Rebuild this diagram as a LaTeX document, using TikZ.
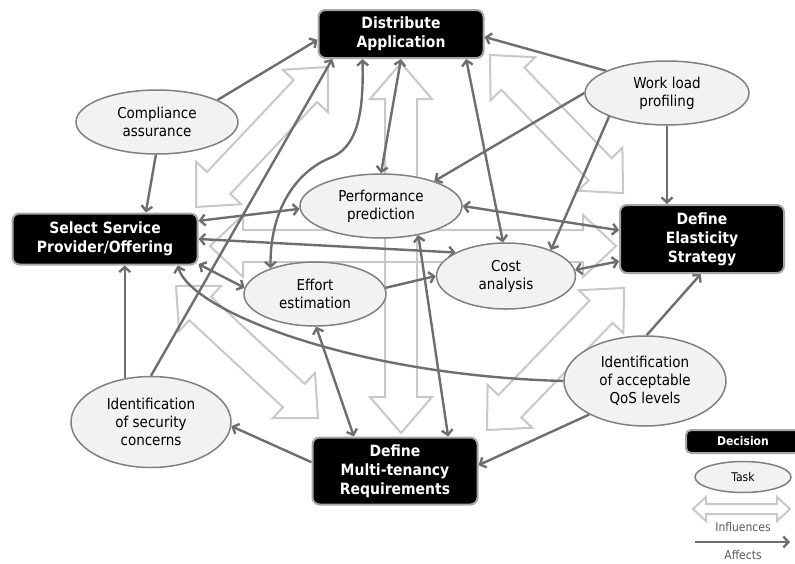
\documentclass[tikz,border=0pt]{standalone}
\usepackage{fontspec}
\setmainfont{DejaVu Sans Condensed}
\usetikzlibrary{arrows.meta,shapes.geometric,calc}
\pgfdeclarelayer{hollow}
\pgfdeclarelayer{links}
\pgfsetlayers{hollow,links,main}
\definecolor{linkc}{HTML}{6E6E6E}
\definecolor{inflc}{HTML}{C8C8C8}
\definecolor{taskfill}{HTML}{F2F2F2}
\definecolor{taskline}{HTML}{808080}
\definecolor{decline}{HTML}{A6A6A6}
\definecolor{legtext}{HTML}{5A5A5A}
\tikzset{
  inflstyle/.style={draw=inflc, line width=2pt, line join=miter},
  link/.style={draw=linkc, line width=2.4pt, -{Straight Barb[length=5pt,width=11pt]}},
  dlink/.style={link, {Straight Barb[length=5pt,width=11pt]}-{Straight Barb[length=5pt,width=11pt]}},
  decision/.style={fill=black, draw=decline, line width=2pt, rounded corners=7pt, text=white,
    font=\bfseries\fontsize{15.5}{19}\selectfont, align=center, inner sep=0pt},
  task/.style={ellipse, fill=taskfill, draw=taskline, line width=1.5pt, inner sep=0pt,
    align=center, font=\fontsize{15}{18}\selectfont},
  legendtext/.style={text=legtext, font=\fontsize{12}{14}\selectfont, inner sep=0pt}
}
\newcommand\inflarrow[7]{%
  \pgfmathsetmacro\iaAng{atan2((#2)-(#4),(#3)-(#1))}%
  \pgfmathsetmacro\iaLen{veclen((#3)-(#1),(#4)-(#2))}%
  \pgfmathsetmacro\iaB{\iaLen-(#7)}%
  \begin{scope}[shift={(#1,#2)},rotate=\iaAng]
    \draw[inflstyle] (0,0) -- (#7,#6) -- (#7,#5) -- (\iaB,#5) -- (\iaB,#6) -- (\iaLen,0)
      -- (\iaB,-#6) -- (\iaB,-#5) -- (#7,-#5) -- (#7,-#6) -- cycle;
  \end{scope}}
\begin{document}
\begin{tikzpicture}[x=1pt,y=-1pt]
\begin{pgfonlayer}{hollow}
  \fill[white] (0,0) rectangle (795,563);
\end{pgfonlayer}
\useasboundingbox (0,0) rectangle (795,563);

% decisions
\node[decision, minimum width=165pt, minimum height=48pt] (da) at (401,34) {Distribute\\Application};
\node[decision, minimum width=185pt, minimum height=51pt] (ss) at (105,239) {Select Service\\Provider/Offering};
\node[decision, minimum width=164pt, minimum height=68pt] (des) at (702,239) {Define\\Elasticity\\Strategy};
\node[decision, minimum width=165pt, minimum height=67pt] (dmr) at (395,471) {Define\\Multi-tenancy\\Requirements};

% tasks
\node[task, minimum width=162pt, minimum height=64pt] (comp) at (157,122) {Compliance\\assurance};
\node[task, minimum width=164pt, minimum height=64pt] (wl) at (667,93) {Work load\\profiling};
\node[task, minimum width=162pt, minimum height=64pt] (pp) at (381,206) {Performance\\prediction};
\node[task, minimum width=142pt, minimum height=64pt] (ee) at (315,294) {Effort\\estimation};
\node[task, minimum width=139pt, minimum height=66pt] (ca) at (506,276) {Cost\\analysis};
\node[task, minimum width=162pt, minimum height=90pt] (qos) at (645,381) {Identification\\of acceptable\\QoS levels};
\node[task, minimum width=160pt, minimum height=91pt] (sec) at (151,422) {Identification\\of security\\concerns};

% legend
\node[decision, minimum width=114pt, minimum height=23pt, rounded corners=5pt,
  font=\bfseries\fontsize{12}{14}\selectfont] (legdec) at (743,441.5) {Decision};
\node[task, minimum width=96pt, minimum height=31pt, font=\fontsize{12}{14}\selectfont] (legtask) at (743,477) {Task};
\node[legendtext] (leginfl) at (743,527) {Influences};
\node[legendtext] (legaff) at (743,555) {Affects};
\coordinate (affa) at (695,542);
\coordinate (affb) at (790,542);

\begin{pgfonlayer}{hollow}
  \inflarrow{401}{63}{401}{433}{16}{31}{36}
  \inflarrow{196}{207}{328}{67}{16}{31}{33}
  \inflarrow{490}{55}{623}{193}{16}{31}{33}
  \inflarrow{176}{286}{318}{418}{16}{31}{33}
  \inflarrow{487}{430}{624}{288}{16}{31}{33}
  \inflarrow{210}{246}{616}{246}{16}{31}{33}
  \inflarrow{693}{509}{790}{509}{5}{12}{13}
\end{pgfonlayer}

\begin{pgfonlayer}{links}
  \draw[link] (comp.20) -- (da.184);
  \draw[link] (comp.-92) -- (ss.33);
  \draw[link] (wl.160) -- (da.-2);
  \draw[link] (wl.180) -- (pp.25);
  \draw[link] (wl.202) -- (ca.30);
  \draw[link] (wl.south) -- (wl.south |- des.north);
  \draw[dlink] (da.south) -- (pp.north);
  \draw[dlink] (da.-21.5) -- (ca.95);
  \draw[dlink] (da.213) .. controls (364,120) and (355,148) .. (330,158)
     .. controls (300,170) and (270,205) .. (ee.150);
  \draw[link] (sec.north) -- (da.200.5);
  \draw[dlink] (ss.11) -- (pp.182);
  \draw[dlink] (ss.0) -- (ca.155);
  \draw[dlink] (ss.-15) -- (ee.175);
  \draw[link] (ee.5) -- (ca.180);
  \draw[dlink] (ee.-88) -- (dmr.140);
  \draw[dlink] (pp.-38) -- (dmr.33);
  \draw[dlink] (pp.0) -- (des.174);
  \draw[dlink] (ca.5) -- (des.195);
  \draw[link] (qos.88) -- (des.-92);
  \draw[link] (qos.211) -- (dmr.4);
  \draw[link] (qos.180) .. controls (350,375) and (190,310) .. (ss.-20);
  \draw[link] (sec.121) -- (sec.121 |- ss.south);
  \draw[link] (dmr.174) -- (sec.-3);
  \draw[link] (affa) -- (affb);
\end{pgfonlayer}
\end{tikzpicture}
\end{document}
